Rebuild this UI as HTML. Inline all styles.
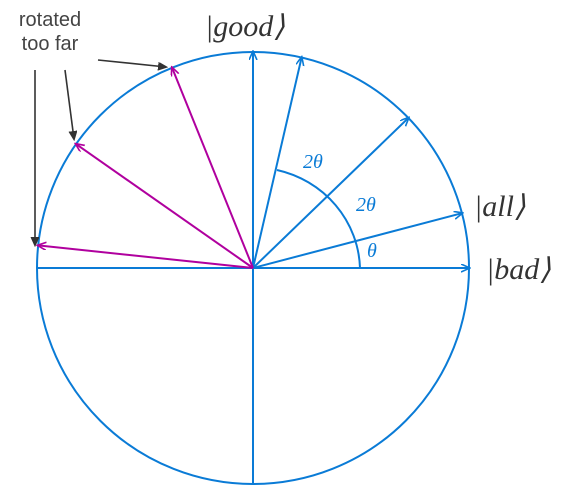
<!DOCTYPE html>
<html><head><meta charset="utf-8"><style>
html,body{margin:0;padding:0;background:#fff;width:580px;height:499px;overflow:hidden}
svg text{font-family:"Liberation Serif",serif;font-style:italic}
</style></head><body>
<svg width="580" height="499">
<defs>
<marker id="ab" markerWidth="10" markerHeight="10" refX="8" refY="4" orient="auto" markerUnits="userSpaceOnUse"><path d="M0,0 L9,4 L0,8" fill="none" stroke="#0a7bd6" stroke-width="1.6"/></marker>
<marker id="am" markerWidth="10" markerHeight="10" refX="8" refY="4" orient="auto" markerUnits="userSpaceOnUse"><path d="M0,0 L9,4 L0,8" fill="none" stroke="#b0009e" stroke-width="1.6"/></marker>
<marker id="ak" markerWidth="10" markerHeight="10" refX="8" refY="4" orient="auto" markerUnits="userSpaceOnUse"><path d="M0,0 L9,4 L0,8" fill="#333" stroke="#333" stroke-width="1"/></marker>
</defs>
<circle cx="253" cy="268" r="216" fill="none" stroke="#0a7bd6" stroke-width="2"/>
<line x1="37" y1="268" x2="253" y2="268" stroke="#0a7bd6" stroke-width="2"/>
<line x1="253" y1="268" x2="253" y2="484" stroke="#0a7bd6" stroke-width="2"/>
<g id="vecs"></g>
<path d="M360,268 A107,104 0 0 0 277,170" fill="none" stroke="#0a7bd6" stroke-width="2"/>
<text x="303" y="168" font-size="20" fill="#0a7bd6">2θ</text>
<text x="356" y="211" font-size="20" fill="#0a7bd6">2θ</text>
<text x="367" y="257" font-size="20" fill="#0a7bd6">θ</text>
<text x="205" y="36" font-size="30" fill="#333">|good⟩</text>
<text x="474" y="216" font-size="30" fill="#333">|all⟩</text>
<text x="486" y="279" font-size="30" fill="#333">|bad⟩</text>
<text x="50" y="26" font-size="20" fill="#444" text-anchor="middle" style="font-family:'Liberation Sans',sans-serif;font-style:normal">rotated</text>
<text x="50" y="50" font-size="20" fill="#444" text-anchor="middle" style="font-family:'Liberation Sans',sans-serif;font-style:normal">too far</text>
<line x1="35" y1="70" x2="35" y2="245" stroke="#333" stroke-width="1.6" marker-end="url(#ak)"/>
<line x1="65" y1="70" x2="74" y2="139" stroke="#333" stroke-width="1.6" marker-end="url(#ak)"/>
<line x1="98" y1="60" x2="166" y2="67" stroke="#333" stroke-width="1.6" marker-end="url(#ak)"/>
</svg>
<script>
const blueAnglesDeg = [0, 14.7, 44, 77, 90];
const purpleAnglesDeg = [112, 145, 174];
const cx = 253, cy = 268, R = 216;
const g = document.getElementById('vecs');
function px(a){return cx + R*Math.cos(a*Math.PI/180);}
function py(a){return cy - R*Math.sin(a*Math.PI/180);}
function vec(a, color, marker, name){
  const l = document.createElementNS('http://www.w3.org/2000/svg','line');
  l.setAttribute('x1',cx);l.setAttribute('y1',cy);
  l.setAttribute('x2',px(a));l.setAttribute('y2',py(a));
  l.setAttribute('stroke',color);l.setAttribute('stroke-width','2');
  l.setAttribute('marker-end','url(#'+marker+')');
  
  
  g.appendChild(l);
}
blueAnglesDeg.forEach((a,i)=>vec(a,'#0a7bd6','ab','state-vector-'+i));
purpleAnglesDeg.forEach((a,i)=>vec(a,'#b0009e','am','overrotated-vector-'+i));
</script>
</body></html>
